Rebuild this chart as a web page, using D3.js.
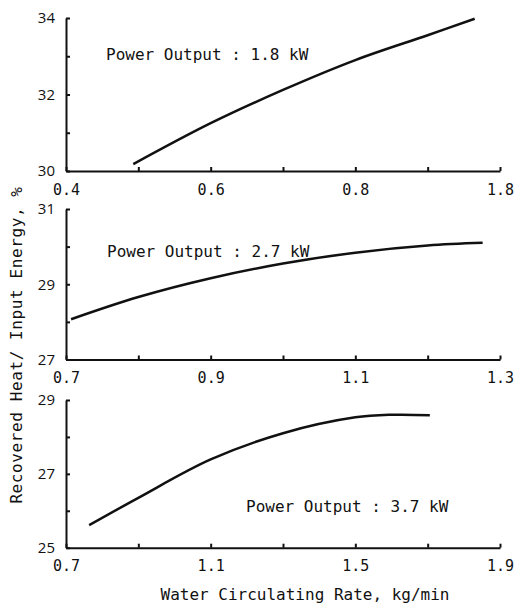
<!DOCTYPE html>
<html><head><meta charset="utf-8">
<script src="https://cdn.jsdelivr.net/npm/d3@7"></script>
<style>
body{margin:0;background:#fff;}
svg{display:block;}
text{fill:#111;}
</style></head>
<body>
<svg id="c" width="518" height="608"></svg>
<script>
// ---- data ----
const panel1X = [0.493, 0.6, 0.7, 0.8, 0.9, 0.965];
const panel1Y = [30.18, 31.25, 32.12, 32.9, 33.55, 33.98];
const panel2X = [0.707, 0.8, 0.9, 1.0, 1.1, 1.2, 1.276];
const panel2Y = [28.07, 28.66, 29.16, 29.55, 29.84, 30.03, 30.1];
const panel3X = [0.764, 0.9, 1.1, 1.3, 1.5, 1.6, 1.706];
const panel3Y = [25.61, 26.35, 27.39, 28.1, 28.53, 28.6, 28.59];

const panel1XTicks = [0.4, 0.6, 0.8, 1.0];
const panel1XLabels = ["0.4", "0.6", "0.8", "1.8"];
const panel2XTicks = [0.7, 0.9, 1.1, 1.3];
const panel2XLabels = ["0.7", "0.9", "1.1", "1.3"];
const panel3XTicks = [0.7, 1.1, 1.5, 1.9];
const panel3XLabels = ["0.7", "1.1", "1.5", "1.9"];

const panel1YTicks = [30, 32, 34];
const panel2YTicks = [27, 29, 31];
const panel3YTicks = [25, 27, 29];

const panelLabels = ["Power Output : 1.8 kW", "Power Output : 2.7 kW", "Power Output : 3.7 kW"];
const xTitle = "Water Circulating Rate, kg/min";
const yTitle = "Recovered Heat/ Input Energy, %";

// ---- layout ----
const svg = d3.select("#c");
const mono = "'DejaVu Sans Mono', monospace";
const x0 = 66, x1 = 500;

const panels = [
  {xs: panel1X, ys: panel1Y, xt: panel1XTicks, xl: panel1XLabels, yt: panel1YTicks,
   yr: [171, 18], label: panelLabels[0], lx: 106, ly: 60},
  {xs: panel2X, ys: panel2Y, xt: panel2XTicks, xl: panel2XLabels, yt: panel2YTicks,
   yr: [359.5, 209], label: panelLabels[1], lx: 107, ly: 257},
  {xs: panel3X, ys: panel3Y, xt: panel3XTicks, xl: panel3XLabels, yt: panel3YTicks,
   yr: [547.7, 400], label: panelLabels[2], lx: 246, ly: 512}
];

panels.forEach(p => {
  const xDom = [p.xt[0], p.xt[p.xt.length - 1]];
  const yDom = [p.yt[0], p.yt[p.yt.length - 1]];
  const x = d3.scaleLinear().domain(xDom).range([x0, x1]);
  const y = d3.scaleLinear().domain(yDom).range(p.yr);

  // minor ticks (midpoints)
  const xAll = [];
  p.xt.forEach((v, i) => { xAll.push(v); if (i < p.xt.length - 1) xAll.push((v + p.xt[i + 1]) / 2); });
  const yAll = [];
  p.yt.forEach((v, i) => { yAll.push(v); if (i < p.yt.length - 1) yAll.push((v + p.yt[i + 1]) / 2); });

  const xAxis = d3.axisBottom(x).tickValues(xAll).tickSizeInner(-4).tickSizeOuter(0).tickPadding(13)
    .tickFormat(d => { const i = p.xt.findIndex(t => Math.abs(t - d) < 1e-9); return i >= 0 ? p.xl[i] : ""; });
  const yAxis = d3.axisLeft(y).tickValues(yAll).tickSizeInner(-4).tickSizeOuter(0).tickPadding(11)
    .tickFormat(d => p.yt.some(t => Math.abs(t - d) < 1e-9) ? d3.format("d")(d) : "");

  const gx = svg.append("g").attr("transform", `translate(0,${p.yr[0]})`).call(xAxis);
  const gy = svg.append("g").attr("transform", `translate(${x0},0)`).call(yAxis);
  [gx, gy].forEach(g => {
    g.select(".domain").attr("stroke", "#111").attr("stroke-width", 2);
    g.selectAll(".tick line").attr("stroke", "#111").attr("stroke-width", 2);
    g.selectAll(".tick text").attr("font-family", mono).attr("font-size", 15).attr("fill", "#111");
  });
  gy.selectAll(".tick text").attr("font-family", "'Open Sans', sans-serif").attr("font-size", 15);

  const data = p.xs.map((v, i) => [v, p.ys[i]]);
  const line = d3.line().x(d => x(d[0])).y(d => y(d[1])).curve(d3.curveCatmullRom.alpha(0.5));
  svg.append("path").datum(data).attr("d", line)
    .attr("fill", "none").attr("stroke", "#111").attr("stroke-width", 2.5);

  svg.append("text").attr("x", p.lx).attr("y", p.ly)
    .attr("font-family", mono).attr("font-size", 16).text(p.label);
});

svg.append("text").attr("x", 305).attr("y", 600).attr("text-anchor", "middle")
  .attr("font-family", mono).attr("font-size", 16).text(xTitle);

svg.append("text").attr("transform", "translate(22,345) rotate(-90)").attr("text-anchor", "middle")
  .attr("font-family", mono).attr("font-size", 16).attr("letter-spacing", 0.6).text(yTitle);
</script>
</body></html>
